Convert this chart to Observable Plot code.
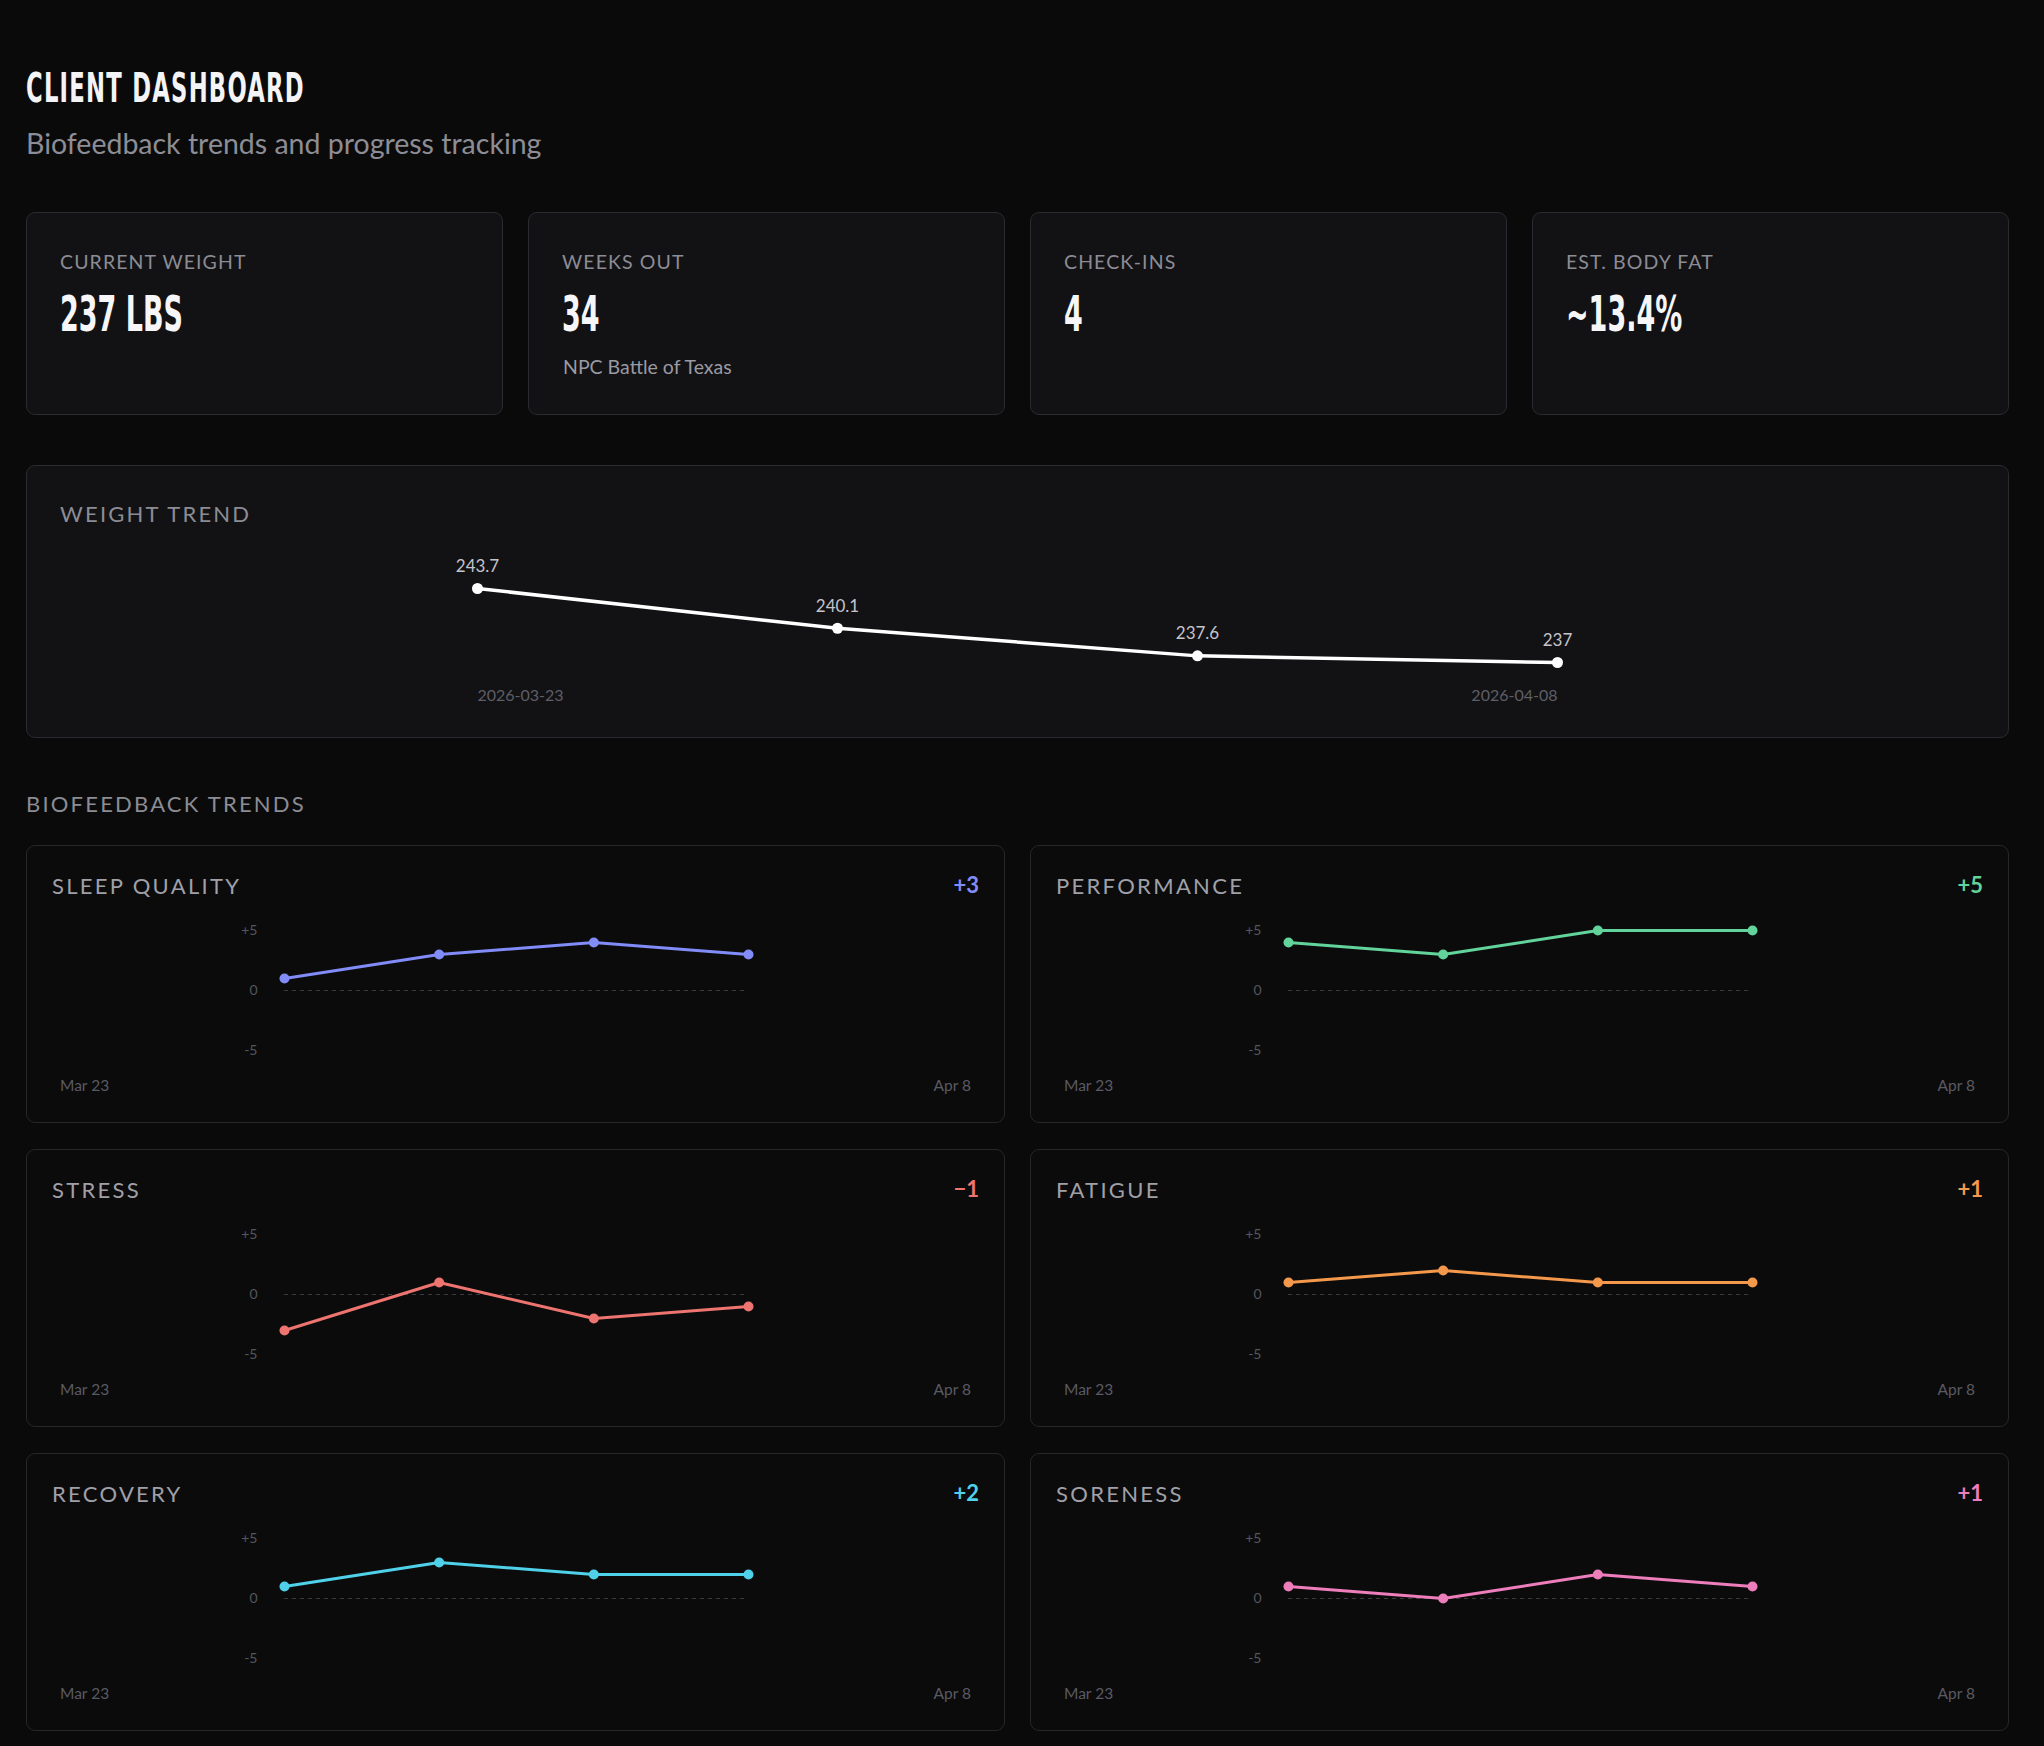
<!DOCTYPE html>
<html>
<head>
<meta charset="utf-8">
<title>Client Dashboard</title>
<script src="https://cdn.jsdelivr.net/npm/d3@7"></script>
<script src="https://cdn.jsdelivr.net/npm/@observablehq/plot@0.6"></script>
<style>
  html, body { margin: 0; background: #0a0a0b; }
  body { width: 2044px; height: 1746px; position: relative; overflow: hidden;
         font-family: Lato, "Noto Sans", sans-serif; }
  .t { position: absolute; white-space: nowrap; line-height: 1; }
  .card { position: absolute; box-sizing: border-box; border: 1.5px solid #2a2a2f; border-radius: 9px; }
  .raised { background: #121215; }
  .flat { background: #0b0b0c; border-color: #26262b; }
  .chart { position: absolute; }
  .chart svg { display: block; overflow: visible; }
</style>
</head>
<body>
<script>
// ---- data ----
const checkIns = [1, 2, 3, 4];
const weightLbs = [243.7, 240.1, 237.6, 237];
const weightDateLabels = ["2026-03-23", "2026-04-08"];
const shortDateLabels = ["Mar 23", "Apr 8"];

const kpiLabels = ["CURRENT WEIGHT", "WEEKS OUT", "CHECK-INS", "EST. BODY FAT"];
const kpiValues = [`${weightLbs[weightLbs.length - 1]} LBS`, "34", String(checkIns.length), "~13.4%"];
const kpiNotes = ["", "NPC Battle of Texas", "", ""];

const metricNames = ["SLEEP QUALITY", "PERFORMANCE", "STRESS", "FATIGUE", "RECOVERY", "SORENESS"];
const sleepQuality = [1, 3, 4, 3];
const performance = [4, 3, 5, 5];
const stress = [-3, 1, -2, -1];
const fatigue = [1, 2, 1, 1];
const recovery = [1, 3, 2, 2];
const soreness = [1, 0, 2, 1];
const scoreTicks = [-5, 0, 5];

// ---- styling ----
const metricSeries = [sleepQuality, performance, stress, fatigue, recovery, soreness];
const metricColors = ["#818cf8", "#62d39b", "#ee7470", "#f4984c", "#4fd1ea", "#ee7dbb"];
const BODY = "Lato, 'Noto Sans', sans-serif";
const NARROW = "'Liberation Sans Narrow', 'DejaVu Sans Condensed', Roboto, sans-serif";
const K = { body: 0.887, narrow: 0.8465 };   // baseline offset per em at line-height 1

function text(str, o) {
  const el = document.createElement("div");
  el.className = "t";
  el.textContent = str;
  el.style.fontFamily = o.narrow ? NARROW : BODY;
  el.style.fontSize = o.size + "px";
  el.style.fontWeight = o.weight || 400;
  el.style.color = o.color;
  if (o.ls) el.style.letterSpacing = o.ls + "px";
  el.style.top = (o.baseline - (o.narrow ? K.narrow : K.body) * o.size) + "px";
  if (o.anchor === "end") el.style.right = (2044 - o.x) + "px";
  else el.style.left = o.x + "px";
  if (o.scaleX) { el.style.transform = `scaleX(${o.scaleX})`; el.style.transformOrigin = o.anchor === "end" ? "100% 0" : "0 0"; }
  document.body.appendChild(el);
  return el;
}
function card(x, y, w, h, cls) {
  const el = document.createElement("div");
  el.className = "card " + cls;
  Object.assign(el.style, { left: x + "px", top: y + "px", width: w + "px", height: h + "px" });
  document.body.appendChild(el);
}
function mount(svg, x, y) {
  const wrap = document.createElement("div");
  wrap.className = "chart";
  wrap.style.left = x + "px";
  wrap.style.top = y + "px";
  wrap.appendChild(svg);
  document.body.appendChild(wrap);
}
const signed = v => v > 0 ? `+${v}` : v < 0 ? `\u2212${Math.abs(v)}` : `${v}`;

// ---- header ----
text("CLIENT DASHBOARD", { x: 26, baseline: 102, size: 40, narrow: true, weight: 700, color: "#f4f4f6", ls: 2, scaleX: 0.63 });
text("Biofeedback trends and progress tracking", { x: 26, baseline: 154, size: 28.5, color: "#8d8d95" });

// ---- KPI cards ----
const kpiW = 477, kpiGap = 25, kpiTop = 212, kpiH = 203;
kpiLabels.forEach((label, i) => {
  const x = 26 + i * (kpiW + kpiGap);
  card(x, kpiTop, kpiW, kpiH, "raised");
  text(label, { x: x + 34, baseline: kpiTop + 57, size: 19.5, color: "#8c8c94", ls: 1.1 });
  text(kpiValues[i], { x: x + 34, baseline: kpiTop + 119, size: 50, narrow: true, weight: 700, color: "#f6f6f8", scaleX: 0.6 });
  if (kpiNotes[i]) text(kpiNotes[i], { x: x + 35, baseline: kpiTop + 162, size: 19.5, color: "#9a9aa2" });
});

// ---- weight trend ----
const wTop = 465, wH = 273, wW = 1983;
card(26, wTop, wW, wH, "raised");
text("WEIGHT TREND", { x: 60, baseline: 523, size: 22, color: "#8c8c94", ls: 2.2 });

const weightRows = checkIns.map((c, i) => ({ checkIn: c, weight: weightLbs[i] }));
const weightEnds = [
  { checkIn: checkIns[0], label: weightDateLabels[0] },
  { checkIn: checkIns[checkIns.length - 1], label: weightDateLabels[1] }
];
mount(Plot.plot({
  width: wW, height: 180,
  marginLeft: 451, marginRight: 452, marginTop: 48, marginBottom: 58,
  x: { type: "linear", domain: d3.extent(checkIns), axis: null },
  y: { domain: d3.extent(weightLbs), axis: null },
  style: { background: "transparent", fontFamily: BODY },
  marks: [
    Plot.line(weightRows, { x: "checkIn", y: "weight", stroke: "#ffffff", strokeWidth: 3.5 }),
    Plot.dot(weightRows, { x: "checkIn", y: "weight", r: 5.5, fill: "#ffffff" }),
    Plot.text(weightRows, { x: "checkIn", y: "weight", text: d => String(d.weight), dy: -22, fontSize: 17, fill: "#c4c4ca" }),
    Plot.text(weightEnds.slice(0, 1), { x: "checkIn", text: "label", frameAnchor: "bottom", textAnchor: "start", dy: 38, fontSize: 16, fill: "#5e5e66" }),
    Plot.text(weightEnds.slice(1), { x: "checkIn", text: "label", frameAnchor: "bottom", textAnchor: "end", dy: 38, fontSize: 16, fill: "#5e5e66" })
  ]
}), 26, 540);

// ---- biofeedback grid ----
text("BIOFEEDBACK TRENDS", { x: 26, baseline: 813, size: 22, color: "#8c8c94", ls: 2.2 });

const mW = 979, mH = 278, colX = [26, 1030], rowY = [845, 1149, 1453];
metricNames.forEach((name, i) => {
  const x = colX[i % 2], y = rowY[Math.floor(i / 2)];
  const values = metricSeries[i], color = metricColors[i];
  card(x, y, mW, mH, "flat");
  text(name, { x: x + 26, baseline: y + 50, size: 22, color: "#a0a0a8", ls: 2.3 });
  text(signed(values[values.length - 1]), { x: x + mW - 26, baseline: y + 49, size: 22, weight: 700, color, anchor: "end" });
  text(shortDateLabels[0], { x: x + 34, baseline: y + 247, size: 15.5, color: "#5a5a62" });
  text(shortDateLabels[1], { x: x + mW - 34, baseline: y + 247, size: 15.5, color: "#5a5a62", anchor: "end" });

  const rows = checkIns.map((c, j) => ({ checkIn: c, score: values[j] }));
  mount(Plot.plot({
    width: mW, height: 150,
    marginLeft: 258, marginRight: 257, marginTop: 15, marginBottom: 15,
    x: { type: "linear", domain: d3.extent(checkIns), axis: null },
    y: { domain: [-5, 5] },
    style: { background: "transparent", color: "#55555c", fontFamily: BODY },
    marks: [
      Plot.axisY({ ticks: scoreTicks, tickSize: 0, tickPadding: 27, fontSize: 14,
                   tickFormat: v => v > 0 ? `+${v}` : `${v}`, label: null }),
      Plot.ruleY([0], { stroke: "#3a3a40", strokeDasharray: "4,4", strokeWidth: 1 }),
      Plot.line(rows, { x: "checkIn", y: "score", stroke: color, strokeWidth: 3 }),
      Plot.dot(rows, { x: "checkIn", y: "score", r: 5, fill: color })
    ]
  }), x, y + 70);
});
</script>
</body>
</html>
